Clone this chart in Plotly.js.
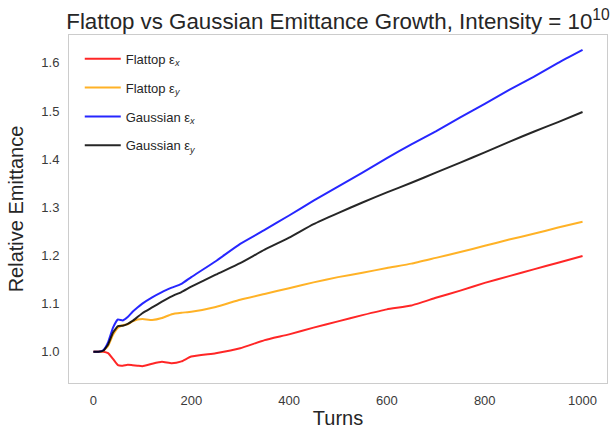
<!DOCTYPE html>
<html>
<head>
<meta charset="utf-8">
<script src="https://cdn.plot.ly/plotly-3.0.1.min.js"></script>
<style>html,body{margin:0;padding:0;background:#fff;}#chart{width:613px;height:435px;}</style>
</head>
<body>
<div id="chart"></div>
<script>
const turns = [0,10,20,30,40,50,60,70,80,90,100,120,140,160,180,200,250,300,350,400,450,500,550,600,650,700,750,800,850,900,950,1000];
const flattopX = [1.0,1.0,1.0,0.997,0.985,0.972,0.971,0.973,0.972,0.971,0.970,0.975,0.979,0.976,0.980,0.990,0.997,1.007,1.024,1.036,1.050,1.063,1.076,1.088,1.096,1.112,1.127,1.143,1.157,1.171,1.185,1.199];
const flattopY = [1.0,1.0,1.002,1.012,1.035,1.050,1.055,1.057,1.063,1.067,1.068,1.066,1.070,1.078,1.081,1.083,1.093,1.108,1.120,1.132,1.144,1.155,1.164,1.174,1.183,1.195,1.207,1.220,1.233,1.245,1.258,1.270];
const gaussX = [1.0,1.0,1.003,1.020,1.050,1.067,1.065,1.072,1.083,1.092,1.100,1.113,1.124,1.133,1.141,1.155,1.188,1.224,1.253,1.283,1.314,1.343,1.372,1.402,1.431,1.458,1.487,1.515,1.544,1.571,1.600,1.627];
const gaussY = [1.0,1.0,1.002,1.015,1.040,1.053,1.054,1.058,1.064,1.072,1.080,1.092,1.104,1.115,1.124,1.135,1.160,1.184,1.212,1.237,1.265,1.288,1.310,1.331,1.351,1.372,1.393,1.414,1.436,1.457,1.477,1.498];
const names = ['Flattop ε<sub><i>x</i></sub>','Flattop ε<sub><i>y</i></sub>','Gaussian ε<sub><i>x</i></sub>','Gaussian ε<sub><i>y</i></sub>'];
const series = [flattopX, flattopY, gaussX, gaussY];
const colors = ['#ff0000','#ffa500','#0000ff','#000000'];

const traces = series.map((s,i)=>({
  x: turns, y: s, type:'scatter', mode:'lines', name: names[i],
  legendgroup: 'g'+i,
  line:{color:colors[i], width:2, shape:'spline', smoothing:0.4}, opacity:0.85
}));

const axisCommon = {
  showgrid:false, zeroline:false, showline:true, mirror:true,
  linecolor:'#cccccc', linewidth:1, ticks:'',
  tickfont:{size:13, color:'#3a3a3a', family:'Liberation Sans, Arial, sans-serif'}
};

const layout = {
  width:613, height:435,
  margin:{l:69, r:6, t:35, b:52},
  paper_bgcolor:'#ffffff', plot_bgcolor:'#ffffff',
  font:{family:'Liberation Sans, Arial, sans-serif', color:'#262626'},
  title:{text:'Flattop vs Gaussian Emittance Growth, Intensity = 10<sup>10</sup>',
         font:{size:22.3, color:'#262626'}, x:0.5, xref:'paper', y:1, yref:'paper', yanchor:'bottom', pad:{b:6}},
  xaxis:Object.assign({}, axisCommon, {range:[-50,1050], tickvals:[0,200,400,600,800,1000], ticklabelstandoff:5,
         title:{text:'Turns', font:{size:20, color:'#262626'}, standoff:4}}),
  yaxis:Object.assign({}, axisCommon, {range:[0.935,1.658], tickvals:[1.0,1.1,1.2,1.3,1.4,1.5,1.6], ticktext:['1.0','1.1','1.2','1.3','1.4','1.5','1.6'], ticklabelstandoff:6,
         title:{text:'Relative Emittance', font:{size:20, color:'#262626'}, standoff:12}}),
  showlegend:true,
  legend:{x:0.02, y:0.975, xanchor:'left', yanchor:'top', bgcolor:'rgba(0,0,0,0)', font:{size:13, color:'#262626'}, tracegroupgap:9, traceorder:'grouped', itemwidth:36}
};
Plotly.newPlot('chart', traces, layout, {displayModeBar:false, staticPlot:true});
</script>
</body>
</html>
